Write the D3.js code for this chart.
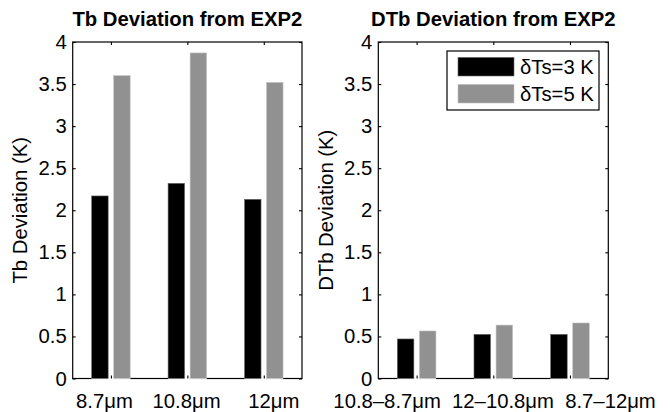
<!DOCTYPE html>
<html>
<head>
<meta charset="utf-8">
<script src="https://cdn.jsdelivr.net/npm/d3@7"></script>
<style>
  html, body { margin: 0; padding: 0; background: #fff; }
  svg text { font-family: "Liberation Sans", Arial, Helvetica, sans-serif; }
</style>
</head>
<body>
<svg id="chart" width="670" height="412"></svg>
<script>
// Band and band-difference categories
const bandsTb = ["8.7μm", "10.8μm", "12μm"];
const bandsDTb = ["10.8–8.7μm", "12–10.8μm", "8.7–12μm"];

// Deviation from EXP2 (K) for the two surface temperature perturbations
const tbDev3K = [2.17, 2.32, 2.13];
const tbDev5K = [3.60, 3.87, 3.52];
const dtbDev3K = [0.47, 0.525, 0.525];
const dtbDev5K = [0.565, 0.635, 0.66];

const seriesNames = ["δTs=3 K", "δTs=5 K"];
const seriesColors = ["#000000", "#919191"];
const seriesEdges = ["#6a6a6a", "#c4c4c4"];
const yTicks = [0, 0.5, 1, 1.5, 2, 2.5, 3, 3.5, 4];

const svg = d3.select("#chart");
const FS = 20.3;

const plotTop = 42, plotBottom = 378.5;
const y = d3.scaleLinear().domain([0, 4]).range([plotBottom, plotTop]);

function drawPanel(opts) {
  const x = d3.scaleLinear().domain([0.5, 3.5]).range([opts.left, opts.right]);
  const g = svg.append("g");
  const offs = [-0.144, 0.144];
  const bw = 0.216;

  // Box frame
  g.append("rect")
    .attr("x", opts.left).attr("y", plotTop)
    .attr("width", opts.right - opts.left).attr("height", plotBottom - plotTop)
    .attr("fill", "none").attr("stroke", "#000").attr("stroke-width", 1.2);

  // Clear the baseline beneath each bar pair
  g.append("g").selectAll("rect")
    .data([1, 2, 3]).join("rect")
    .attr("x", d => x(d + offs[0] - bw / 2))
    .attr("width", d => x(d + offs[1] + bw / 2) - x(d + offs[0] - bw / 2))
    .attr("y", plotBottom - 1.2).attr("height", 2.4)
    .attr("fill", "#fff");

  // Bars
  opts.series.forEach((vals, s) => {
    g.append("g").selectAll("rect")
      .data(vals).join("rect")
      .attr("x", (d, i) => x(i + 1 + offs[s] - bw / 2))
      .attr("width", x(1 + bw) - x(1))
      .attr("y", d => y(d))
      .attr("height", d => y(0) - y(d))
      .attr("fill", seriesColors[s])
      .attr("stroke", seriesEdges[s])
      .attr("stroke-width", 0.6);
  });

  // Left y axis with inward ticks
  const ya = g.append("g").attr("transform", `translate(${opts.left},0)`)
    .call(d3.axisLeft(y).tickValues(yTicks).tickFormat(d => String(d))
      .tickSizeInner(-3).tickSizeOuter(0).tickPadding(6));
  // Right y axis ticks only
  const yr = g.append("g").attr("transform", `translate(${opts.right},0)`)
    .call(d3.axisRight(y).tickValues(yTicks).tickFormat("")
      .tickSizeInner(-3).tickSizeOuter(0));
  // Bottom x axis (labels are set separately, spread apart so they do not collide)
  const xa = g.append("g").attr("transform", `translate(0,${plotBottom})`)
    .call(d3.axisBottom(x).tickValues([1, 2, 3]).tickFormat(i => opts.cats[i - 1])
      .tickSizeInner(-3).tickSizeOuter(0));
  xa.selectAll(".tick text")
    .attr("y", 0).attr("dy", null)
    .attr("transform", (d, i) => `translate(${opts.labelShift[i]},${407.5 - plotBottom})`);
  // Top x axis ticks only
  const xt = g.append("g").attr("transform", `translate(0,${plotTop})`)
    .call(d3.axisTop(x).tickValues([1, 2, 3]).tickFormat("")
      .tickSizeInner(-3).tickSizeOuter(0));

  [ya, yr, xa, xt].forEach(a => {
    a.select(".domain").remove();
    a.selectAll("line").attr("stroke", "#000").attr("stroke-width", 1.1);
    a.selectAll("text").attr("font-size", FS).attr("fill", "#000")
      .attr("font-family", "'Liberation Sans', Arial, Helvetica, sans-serif");
  });

  // Title
  g.append("text")
    .attr("x", (opts.left + opts.right) / 2).attr("y", 25.7)
    .attr("text-anchor", "middle")
    .attr("font-size", FS).attr("font-weight", "bold")
    .text(opts.title);

  // Y label
  g.append("text")
    .attr("transform", `translate(${opts.ylabelX},${(plotTop + plotBottom) / 2}) rotate(-90)`)
    .attr("text-anchor", "middle")
    .attr("font-size", FS)
    .text(opts.ylabel);

  return g;
}

drawPanel({
  left: 72.7, right: 302,
  cats: bandsTb, series: [tbDev3K, tbDev5K], labelShift: [-7, -1.3, 9.5],
  title: "Tb Deviation from EXP2", ylabel: "Tb Deviation (K)", ylabelX: 27
});

const rightPanel = drawPanel({
  left: 378.3, right: 608.3,
  cats: bandsDTb, series: [dtbDev3K, dtbDev5K], labelShift: [-30, 9.2, 40],
  title: "DTb Deviation from EXP2", ylabel: "DTb Deviation (K)", ylabelX: 333
});

// Legend
const leg = rightPanel.append("g");
leg.append("rect")
  .attr("x", 447).attr("y", 51).attr("width", 152).attr("height", 59)
  .attr("fill", "#fff").attr("stroke", "#000").attr("stroke-width", 1.2);
seriesNames.forEach((name, i) => {
  const cy = 66.7 + i * 27;
  leg.append("rect")
    .attr("x", 458).attr("y", cy - 9.3).attr("width", 56).attr("height", 18.6)
    .attr("fill", seriesColors[i]).attr("stroke", seriesEdges[i]).attr("stroke-width", 0.6);
  leg.append("text")
    .attr("x", 520).attr("y", cy + 7.2)
    .attr("font-size", FS)
    .text(name);
});
</script>
</body>
</html>
